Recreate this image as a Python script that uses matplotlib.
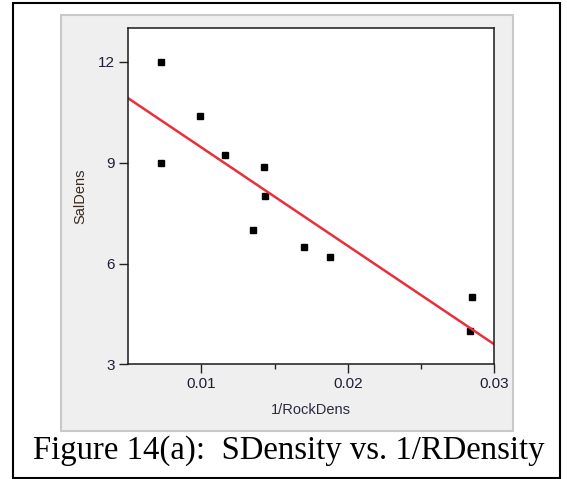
import matplotlib
matplotlib.use("Agg")
import matplotlib.pyplot as plt
import numpy as np
from matplotlib.patches import Rectangle

# data
inv_rock_dens = [0.00724, 0.00724, 0.0099, 0.01161, 0.01425, 0.01432,
                 0.01354, 0.01703, 0.01877, 0.02849, 0.02838]
sal_dens = [12.0, 9.0, 10.4, 9.22, 8.88, 8.0, 7.0, 6.5, 6.2, 5.0, 4.0]

x_ticks = [0.01, 0.02, 0.03]
x_tick_labels = ["0.01", "0.02", "0.03"]
x_minor = [0.015, 0.025]
y_ticks = [3, 6, 9, 12]
y_tick_labels = ["3", "6", "9", "12"]

caption = "Figure 14(a):  SDensity vs. 1/RDensity"

W, H = 567, 479
fig = plt.figure(figsize=(W / 100, H / 100), dpi=100)
fig.patch.set_facecolor("white")

# outer caption frame
fig.add_artist(Rectangle((13 / W, 1 - 478 / H), 547 / W, 475 / H,
                         transform=fig.transFigure, fill=False,
                         edgecolor="black", linewidth=1.5, zorder=-10))
# gray plot panel
fig.add_artist(Rectangle((61 / W, 1 - 431 / H), 452 / W, 416 / H,
                         transform=fig.transFigure, facecolor="#efefef",
                         edgecolor="#c9c9c9", linewidth=1.5, zorder=-10))

ax = fig.add_axes([128.3 / W, 1 - 364.3 / H, (494 - 128.3) / W, (364.3 - 28.3) / H])
ax.set_facecolor("white")

ax.plot(inv_rock_dens, sal_dens, linestyle="none", marker="s",
        markersize=4.8, color="black")

slope, intercept = np.polyfit(inv_rock_dens, sal_dens, 1)
xl = np.array([0.005, 0.03])
ax.plot(xl, slope * xl + intercept, color="#e8303c", linewidth=1.8)

ax.set_xlim(0.005, 0.03)
ax.set_ylim(3, 13)
ax.set_xticks(x_ticks)
ax.set_xticklabels(x_tick_labels)
ax.set_xticks(x_minor, minor=True)
ax.set_yticks(y_ticks)
ax.set_yticklabels(y_tick_labels)

lab_color = "#1e1e38"
ax.tick_params(axis="both", which="major", length=6.5, width=1.0, pad=3,
               labelsize=11, labelcolor=lab_color, color="#222222")
ax.tick_params(axis="x", which="minor", length=3.6, width=1.0, color="#222222")
for lab in ax.get_xticklabels() + ax.get_yticklabels():
    lab.set_family("Liberation Sans")

for sp in ax.spines.values():
    sp.set_linewidth(1.1)
    sp.set_color("#1a1a1a")

ax.set_xlabel("1/RockDens", fontsize=10.5, family="Liberation Sans",
              color="#2a2a40", labelpad=8)
ax.set_ylabel("SalDens", fontsize=10.5, family="Liberation Sans",
              color="#3a2a20", labelpad=8)

fig.text(289 / W, 1 - 459 / H, caption, ha="center", va="baseline",
         fontsize=23.6, family="Liberation Serif", color="black")

fig.savefig("out.png", dpi=100)
